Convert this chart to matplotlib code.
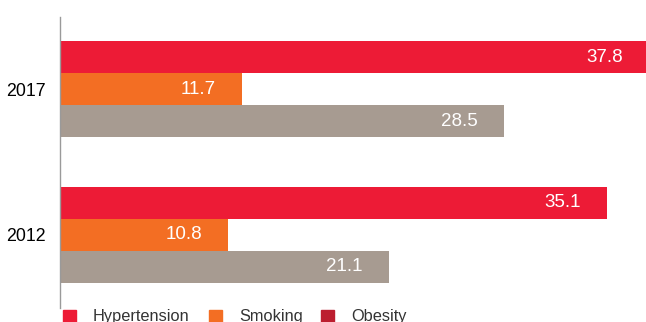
import matplotlib.pyplot as plt
from matplotlib.patches import Rectangle

plt.rcParams['font.family'] = ['Liberation Sans', 'DejaVu Sans']

years = ['2012', '2017']
series = ['Hypertension', 'Smoking', 'Obesity']
hypertension = [35.1, 37.8]
smoking = [10.8, 11.7]
obesity = [21.1, 28.5]

bar_colors = ['#ED1B36', '#F36E23', '#A79B91']
legend_colors = ['#ED1B36', '#F36E23', '#BC1E2F']

fig = plt.figure(figsize=(6.46, 3.22), dpi=100)
ax = fig.add_axes([60/646, 14/322, 586/646, 291/322])

h = 0.22
offsets = [h, 0, -h]
for vals, off, c in zip([hypertension, smoking, obesity], offsets, bar_colors):
    ys = [i + off for i in range(len(years))]
    ax.barh(ys, vals, height=h, color=c, edgecolor='none')
    for y, v in zip(ys, vals):
        ax.annotate(f'{v:.1f}', xy=(v, y), xytext=(-19, 0),
                    textcoords='offset points', ha='right', va='center',
                    color='white', fontsize=13.5, annotation_clip=False)

ax.set_xlim(0, 37.59)
ax.set_ylim(-0.502, 1.498)
ax.set_yticks(range(len(years)))
ax.set_yticklabels(years, fontsize=12.8)
ax.tick_params(axis='y', length=0, pad=10)
ax.set_xticks([])
for s in ['top', 'right', 'bottom']:
    ax.spines[s].set_visible(False)
ax.spines['left'].set_color('#9a9a9a')
ax.spines['left'].set_linewidth(1)

# legend along the bottom edge
sq_x = [63, 209, 321]
txt_x = [93, 239, 351]
for name, c, sx, tx in zip(series, legend_colors, sq_x, txt_x):
    fig.patches.append(Rectangle((sx/646, 0), 13/646, 12/322, color=c,
                                 transform=fig.transFigure, figure=fig))
    fig.text(tx/646, 1/322, name, fontsize=11.8, color='#333333',
             va='baseline', ha='left')

fig.savefig('out.png', dpi=100)
